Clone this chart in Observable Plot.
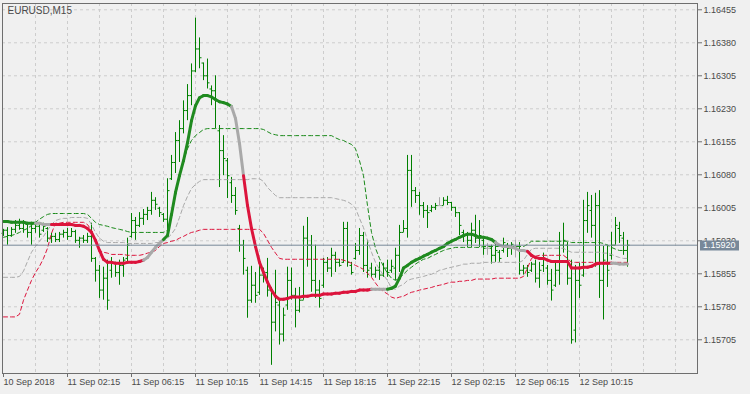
<!DOCTYPE html>
<html>
<head>
<meta charset="utf-8">
<script src="https://cdn.jsdelivr.net/npm/d3@7"></script>
<script src="https://cdn.jsdelivr.net/npm/@observablehq/plot@0.6"></script>
<style>
  html, body { margin: 0; padding: 0; background: #f0f0f0; }
  #chart { width: 750px; height: 394px; overflow: hidden; }
</style>
</head>
<body>
<div id="chart"></div>
<script>
// ---- Data (EURUSD, M15) ----
const symbolTitle = "EURUSD,M15";
const lastPrice = 1.15920;

const high = [
1.15956,1.15960,1.15960,1.15976,1.15979,1.15976,1.15970,1.15972,1.15970,1.15970,
1.15970,1.15960,1.15947,1.15947,1.15949,1.15954,1.15958,1.15958,1.15954,1.15938,
1.15942,1.15947,1.15970,1.15892,1.15874,1.15870,1.15886,1.15892,1.15881,1.15886,
1.15892,1.15936,1.15992,1.15983,1.15994,1.16001,1.16006,1.16040,1.16028,1.16006,
1.15992,1.16071,1.16124,1.16176,1.16203,1.16248,1.16285,1.16332,1.16436,1.16391,
1.16334,1.16343,1.16282,1.16305,1.16192,1.16169,1.16117,1.16074,1.16051,1.15965,
1.15931,1.15870,1.15872,1.15858,1.15881,1.15868,1.15890,1.15824,1.15863,1.15795,
1.15777,1.15870,1.15868,1.15822,1.15824,1.15963,1.15983,1.15942,1.15920,1.15840,
1.15890,1.15892,1.15913,1.15904,1.15888,1.15972,1.15972,1.15881,1.15924,1.15958,
1.15949,1.15931,1.15879,1.15870,1.15881,1.15879,1.15886,1.15886,1.15913,1.15965,
1.15976,1.16124,1.16124,1.16051,1.16040,1.16017,1.16010,1.16010,1.16015,1.16028,
1.16028,1.16031,1.16017,1.16006,1.15994,1.15954,1.15949,1.15970,1.15988,1.15976,
1.15938,1.15924,1.15920,1.15926,1.15908,1.15936,1.15924,1.15926,1.15931,1.15926,
1.15874,1.15874,1.15881,1.15886,1.15881,1.15902,1.15874,1.15865,1.15879,1.15949,
1.15970,1.15926,1.15886,1.15874,1.15879,1.16022,1.16040,1.16033,1.16038,1.16044,
1.15917,1.15920,1.15949,1.15983,1.15972,1.15949,1.15931
];
const low = [
1.15940,1.15920,1.15938,1.15947,1.15954,1.15947,1.15936,1.15920,1.15947,1.15936,
1.15949,1.15926,1.15924,1.15926,1.15926,1.15936,1.15931,1.15938,1.15924,1.15913,
1.15924,1.15924,1.15881,1.15836,1.15799,1.15795,1.15772,1.15845,1.15847,1.15829,
1.15847,1.15881,1.15936,1.15931,1.15960,1.15965,1.15976,1.15988,1.15999,1.15983,
1.15972,1.15942,1.16067,1.16083,1.16108,1.16173,1.16203,1.16237,1.16312,1.16321,
1.16294,1.16275,1.16237,1.16185,1.16051,1.16078,1.16026,1.16015,1.15988,1.15904,
1.15852,1.15754,1.15788,1.15788,1.15806,1.15834,1.15802,1.15647,1.15723,1.15693,
1.15700,1.15772,1.15795,1.15732,1.15766,1.15795,1.15870,1.15813,1.15799,1.15777,
1.15822,1.15858,1.15847,1.15858,1.15870,1.15879,1.15870,1.15852,1.15886,1.15897,
1.15858,1.15845,1.15847,1.15845,1.15840,1.15847,1.15847,1.15856,1.15840,1.15858,
1.15949,1.15936,1.16006,1.16015,1.15988,1.15981,1.15958,1.15994,1.15999,1.16010,
1.16010,1.16010,1.15997,1.15983,1.15942,1.15926,1.15915,1.15915,1.15924,1.15915,
1.15897,1.15897,1.15877,1.15881,1.15881,1.15902,1.15892,1.15897,1.15892,1.15852,
1.15852,1.15847,1.15858,1.15834,1.15822,1.15858,1.15829,1.15793,1.15824,1.15829,
1.15902,1.15829,1.15695,1.15698,1.15799,1.15847,1.15947,1.15936,1.15870,1.15799,
1.15750,1.15824,1.15886,1.15920,1.15924,1.15897,1.15870
];
const open = [
1.15947,1.15954,1.15942,1.15956,1.15965,1.15958,1.15967,1.15949,1.15958,1.15963,
1.15954,1.15958,1.15936,1.15940,1.15933,1.15945,1.15949,1.15940,1.15951,1.15931,
1.15936,1.15931,1.15940,1.15890,1.15863,1.15818,1.15845,1.15863,1.15881,1.15858,
1.15874,1.15890,1.15940,1.15976,1.15965,1.15981,1.15990,1.15999,1.16022,1.16004,
1.15990,1.15979,1.16071,1.16108,1.16158,1.16185,1.16226,1.16260,1.16316,1.16366,
1.16334,1.16305,1.16275,1.16271,1.16180,1.16135,1.16112,1.16062,1.16033,1.15958,
1.15920,1.15863,1.15795,1.15829,1.15813,1.15852,1.15858,1.15818,1.15745,1.15784,
1.15718,1.15784,1.15840,1.15806,1.15772,1.15795,1.15936,1.15920,1.15840,1.15818,
1.15829,1.15881,1.15868,1.15897,1.15881,1.15881,1.15958,1.15874,1.15890,1.15908,
1.15942,1.15874,1.15868,1.15854,1.15863,1.15852,1.15868,1.15863,1.15868,1.15897,
1.15949,1.15958,1.16090,1.16044,1.16033,1.16010,1.15999,1.15999,1.16006,1.16010,
1.16010,1.16022,1.16017,1.16006,1.15994,1.15949,1.15942,1.15931,1.15954,1.15936,
1.15931,1.15913,1.15913,1.15897,1.15904,1.15908,1.15920,1.15913,1.15917,1.15917,
1.15863,1.15868,1.15863,1.15877,1.15845,1.15874,1.15868,1.15840,1.15829,1.15863,
1.15920,1.15920,1.15845,1.15727,1.15840,1.15852,1.15976,1.15999,1.15965,1.16010,
1.15840,1.15881,1.15897,1.15920,1.15958,1.15936,1.15908
];
const close = [
1.15954,1.15942,1.15956,1.15965,1.15958,1.15972,1.15949,1.15958,1.15963,1.15945,
1.15963,1.15936,1.15940,1.15933,1.15945,1.15949,1.15940,1.15951,1.15931,1.15936,
1.15931,1.15940,1.15890,1.15863,1.15818,1.15845,1.15795,1.15881,1.15858,1.15874,
1.15886,1.15920,1.15976,1.15965,1.15981,1.15990,1.15999,1.16022,1.16013,1.15994,
1.15979,1.16044,1.16108,1.16158,1.16185,1.16226,1.16260,1.16316,1.16366,1.16346,
1.16305,1.16289,1.16271,1.16248,1.16135,1.16117,1.16078,1.16033,1.15999,1.15920,
1.15890,1.15795,1.15829,1.15806,1.15852,1.15858,1.15818,1.15745,1.15790,1.15718,
1.15761,1.15840,1.15806,1.15772,1.15795,1.15936,1.15920,1.15840,1.15818,1.15799,
1.15881,1.15868,1.15897,1.15881,1.15874,1.15958,1.15881,1.15858,1.15908,1.15942,
1.15874,1.15863,1.15854,1.15863,1.15852,1.15868,1.15858,1.15872,1.15897,1.15949,
1.15958,1.16090,1.16044,1.16033,1.16010,1.15999,1.15994,1.16006,1.16010,1.16010,
1.16022,1.16017,1.16006,1.15994,1.15965,1.15942,1.15931,1.15954,1.15936,1.15942,
1.15913,1.15913,1.15897,1.15908,1.15890,1.15926,1.15913,1.15922,1.15917,1.15863,
1.15868,1.15858,1.15877,1.15845,1.15863,1.15890,1.15840,1.15818,1.15863,1.15920,
1.15931,1.15845,1.15705,1.15840,1.15829,1.15976,1.16010,1.15965,1.16010,1.15840,
1.15886,1.15863,1.15920,1.15965,1.15942,1.15908,1.15920
];
// thick trend line
const trendLine = [
1.15974,1.15974,1.15972,1.15972,1.15972,1.15972,1.15970,1.15970,1.15970,1.15970,
1.15967,1.15967,1.15967,1.15967,1.15967,1.15967,1.15967,1.15967,1.15965,1.15965,
1.15963,1.15958,1.15949,1.15931,1.15908,1.15888,1.15881,1.15881,1.15879,1.15879,
1.15879,1.15881,1.15881,1.15881,1.15883,1.15886,1.15892,1.15904,1.15915,1.15924,
1.15933,1.15942,1.15990,1.16040,1.16078,1.16112,1.16153,1.16203,1.16237,1.16255,
1.16260,1.16260,1.16257,1.16251,1.16246,1.16244,1.16241,1.16235,1.16208,1.16151,
1.16078,1.16010,1.15958,1.15917,1.15881,1.15858,1.15836,1.15818,1.15804,1.15797,
1.15797,1.15799,1.15802,1.15802,1.15802,1.15804,1.15804,1.15806,1.15806,1.15806,
1.15809,1.15809,1.15809,1.15811,1.15811,1.15813,1.15813,1.15815,1.15815,1.15818,
1.15818,1.15818,1.15820,1.15820,1.15820,1.15820,1.15820,1.15822,1.15827,1.15845,
1.15868,1.15874,1.15881,1.15886,1.15890,1.15895,1.15899,1.15904,1.15908,1.15913,
1.15917,1.15924,1.15929,1.15933,1.15938,1.15942,1.15945,1.15945,1.15942,1.15938,
1.15938,1.15936,1.15933,1.15926,1.15920,1.15917,1.15917,1.15915,1.15913,1.15908,
1.15908,1.15906,1.15897,1.15892,1.15890,1.15890,1.15886,1.15883,1.15883,1.15883,
1.15883,1.15883,1.15868,1.15868,1.15868,1.15870,1.15870,1.15872,1.15877,1.15879,
1.15879,1.15879,1.15879,1.15879,1.15877,1.15877,1.15877
];
// colour state of the thick line, as runs of bars: [state, number of bars]
const trendRuns = [["up",9],["flat",4],["down",23],["flat",5],["up",17],["flat",3],
  ["down",32],["flat",4],["up",27],["flat",8],["down",21],["flat",4]];

const upperBand = [
1.15938,1.15940,1.15942,1.15945,1.15949,1.15954,1.15958,1.15965,1.15972,1.15979,
1.15985,1.15990,1.15992,1.15992,1.15992,1.15992,1.15992,1.15992,1.15992,1.15992,
1.15992,1.15990,1.15981,1.15972,1.15967,1.15965,1.15963,1.15960,1.15958,1.15956,
1.15954,1.15951,1.15949,1.15949,1.15949,1.15949,1.15949,1.15949,1.15949,1.15949,
1.15949,1.15954,1.15988,1.16033,1.16078,1.16112,1.16139,1.16158,1.16169,1.16176,
1.16183,1.16185,1.16185,1.16185,1.16185,1.16185,1.16185,1.16185,1.16185,1.16185,
1.16185,1.16185,1.16185,1.16185,1.16185,1.16183,1.16178,1.16173,1.16171,1.16169,
1.16169,1.16169,1.16169,1.16169,1.16169,1.16169,1.16169,1.16169,1.16169,1.16169,
1.16169,1.16169,1.16169,1.16164,1.16160,1.16158,1.16153,1.16149,1.16139,1.16112,
1.16078,1.16010,1.15949,1.15913,1.15890,1.15872,1.15856,1.15845,1.15840,1.15845,
1.15854,1.15863,1.15870,1.15877,1.15883,1.15888,1.15890,1.15895,1.15899,1.15904,
1.15908,1.15911,1.15913,1.15915,1.15915,1.15915,1.15915,1.15915,1.15915,1.15915,
1.15917,1.15917,1.15917,1.15917,1.15917,1.15917,1.15917,1.15917,1.15917,1.15917,
1.15917,1.15922,1.15929,1.15929,1.15929,1.15929,1.15929,1.15929,1.15929,1.15929,
1.15929,1.15929,1.15926,1.15926,1.15926,1.15926,1.15926,1.15926,1.15926,1.15926,
1.15924,1.15920,1.15915,1.15911,1.15908,1.15908,1.15908
];
const middleBand = [
1.15847,1.15847,1.15847,1.15847,1.15849,1.15861,1.15883,1.15904,1.15917,1.15929,
1.15940,1.15954,1.15967,1.15976,1.15979,1.15981,1.15981,1.15983,1.15983,1.15983,
1.15983,1.15981,1.15967,1.15949,1.15936,1.15929,1.15926,1.15926,1.15926,1.15926,
1.15926,1.15924,1.15924,1.15924,1.15924,1.15924,1.15924,1.15924,1.15926,1.15926,
1.15929,1.15936,1.15945,1.15958,1.15983,1.16010,1.16031,1.16049,1.16058,1.16065,
1.16069,1.16069,1.16069,1.16069,1.16069,1.16069,1.16069,1.16069,1.16069,1.16069,
1.16069,1.16069,1.16071,1.16071,1.16071,1.16065,1.16051,1.16042,1.16033,1.16028,
1.16028,1.16028,1.16028,1.16028,1.16028,1.16028,1.16028,1.16028,1.16028,1.16028,
1.16028,1.16028,1.16028,1.16026,1.16024,1.16022,1.16019,1.16013,1.16004,1.15981,
1.15960,1.15931,1.15904,1.15881,1.15865,1.15852,1.15840,1.15822,1.15820,1.15827,
1.15831,1.15840,1.15843,1.15845,1.15847,1.15849,1.15852,1.15854,1.15858,1.15863,
1.15865,1.15868,1.15870,1.15872,1.15874,1.15877,1.15877,1.15879,1.15879,1.15879,
1.15881,1.15881,1.15881,1.15881,1.15881,1.15881,1.15881,1.15881,1.15881,1.15881,
1.15886,1.15899,1.15911,1.15913,1.15913,1.15913,1.15913,1.15913,1.15913,1.15913,
1.15913,1.15908,1.15904,1.15904,1.15904,1.15904,1.15904,1.15904,1.15904,1.15904,
1.15902,1.15902,1.15899,1.15895,1.15892,1.15890,1.15890
];
const lowerBand = [
1.15757,1.15757,1.15757,1.15757,1.15763,1.15795,1.15818,1.15840,1.15858,1.15872,
1.15890,1.15913,1.15947,1.15970,1.15970,1.15972,1.15972,1.15972,1.15972,1.15972,
1.15972,1.15967,1.15954,1.15929,1.15908,1.15904,1.15902,1.15899,1.15899,1.15899,
1.15899,1.15897,1.15897,1.15897,1.15897,1.15899,1.15902,1.15904,1.15908,1.15917,
1.15924,1.15926,1.15929,1.15931,1.15936,1.15940,1.15945,1.15949,1.15951,1.15954,
1.15956,1.15956,1.15956,1.15956,1.15956,1.15956,1.15956,1.15956,1.15956,1.15956,
1.15956,1.15956,1.15956,1.15956,1.15956,1.15947,1.15931,1.15915,1.15902,1.15890,
1.15888,1.15888,1.15888,1.15888,1.15888,1.15888,1.15888,1.15888,1.15888,1.15888,
1.15888,1.15888,1.15888,1.15888,1.15888,1.15886,1.15883,1.15879,1.15874,1.15870,
1.15865,1.15856,1.15847,1.15834,1.15822,1.15815,1.15809,1.15802,1.15799,1.15802,
1.15804,1.15809,1.15813,1.15815,1.15818,1.15820,1.15822,1.15824,1.15827,1.15829,
1.15831,1.15834,1.15836,1.15836,1.15838,1.15838,1.15840,1.15840,1.15843,1.15843,
1.15843,1.15843,1.15843,1.15845,1.15845,1.15845,1.15845,1.15845,1.15845,1.15845,
1.15849,1.15868,1.15890,1.15895,1.15897,1.15897,1.15897,1.15897,1.15897,1.15897,
1.15897,1.15890,1.15881,1.15881,1.15881,1.15881,1.15881,1.15881,1.15881,1.15881,
1.15881,1.15881,1.15881,1.15881,1.15881,1.15881,1.15881
];

const yTicks = [1.15705,1.15780,1.15855,1.15930,1.16005,1.16080,1.16155,1.16230,1.16305,1.16380,1.16455];
const xTickBars = [0,16,32,48,64,80,96,112,128,144];
const xTickLabels = ["10 Sep 2018","11 Sep 02:15","11 Sep 06:15","11 Sep 10:15","11 Sep 14:15",
  "11 Sep 18:15","11 Sep 22:15","12 Sep 02:15","12 Sep 06:15","12 Sep 10:15"];
const gridBars = [8,16,24,32,40,48,56,64,72,80,88,96,104,112,120,128,136,144,152,160,168];

// ---- tables built from the arrays ----
const trend = trendRuns.flatMap(([s, n]) => Array(n).fill(s));
const bars = high.map((h, i) => ({
  i, high: h, low: low[i], open: open[i], close: close[i],
  ma: trendLine[i], up: upperBand[i], mid: middleBand[i], lo: lowerBand[i]
}));
const segs = bars.slice(1).map((d, k) => ({
  x1: k, y1: trendLine[k], x2: d.i, y2: trendLine[d.i], state: trend[d.i]
}));
const stateColor = {up: "#1f8a1f", down: "#dc143c", flat: "#a9a9a9"};
const barColor = d => d.open === d.close ? "#a9a9a9" : "#008000";
const labelOf = new Map(xTickBars.map((b, k) => [b, xTickLabels[k]]));

const textColor = "#4a4a4a";
const gridColor = "#cdcdcd";

const chart = Plot.plot({
  width: 750, height: 394,
  marginLeft: 2, marginRight: 53, marginTop: 3, marginBottom: 21,
  style: {background: "#f0f0f0", fontFamily: "'Liberation Sans', Arial, sans-serif", fontSize: "9px", color: textColor},
  x: {type: "linear", domain: [-0.25, 173.5], axis: null},
  y: {domain: [1.156284, 1.164693], axis: null},
  marks: [
    Plot.ruleY(yTicks, {stroke: gridColor, strokeDasharray: "3,3"}),
    Plot.ruleX(gridBars, {stroke: gridColor, strokeDasharray: "3,3"}),
    // OHLC bars
    Plot.ruleX(bars, {x: "i", y1: "low", y2: "high", stroke: barColor}),
    Plot.link(bars, {x1: d => d.i - 0.5, x2: "i", y1: "open", y2: "open", stroke: barColor}),
    Plot.link(bars, {x1: "i", x2: d => d.i + 0.5, y1: "close", y2: "close", stroke: barColor}),
    // bands
    Plot.line(bars, {x: "i", y: "up", stroke: "#1a8a1a", strokeDasharray: "4,3", strokeWidth: 1}),
    Plot.line(bars, {x: "i", y: "mid", stroke: "#a9a9a9", strokeDasharray: "4,3", strokeWidth: 1}),
    Plot.line(bars, {x: "i", y: "lo", stroke: "#dc143c", strokeDasharray: "4,3", strokeWidth: 1}),
    // thick coloured line
    Plot.link(segs, {x1: "x1", y1: "y1", x2: "x2", y2: "y2", stroke: d => stateColor[d.state], strokeWidth: 3, strokeLinecap: "round"}),
    // current price line
    Plot.ruleY([lastPrice], {stroke: "#778899", strokeWidth: 1}),
    Plot.frame({stroke: "#6e6e6e"}),
    Plot.axisY({anchor: "right", ticks: yTicks, tickFormat: d => d.toFixed(5), tickSize: 4, tickPadding: 2, stroke: "#6e6e6e", fill: textColor}),
    Plot.axisX({anchor: "bottom", ticks: xTickBars, tickFormat: d => labelOf.get(d), tickSize: 4, tickPadding: 1, textAnchor: "start", stroke: "#6e6e6e", fill: textColor}),
    Plot.text([symbolTitle], {frameAnchor: "top-left", dx: 5, dy: 3, textAnchor: "start", lineAnchor: "top", fill: textColor, fontSize: 10})
  ]
});
document.getElementById("chart").appendChild(chart);

// current price tag on the right axis (drawn over the hidden grid label, as in the original)
const svg = d3.select(chart.tagName.toLowerCase() === "svg" ? chart : chart.querySelector("svg"));
const py = Math.round(chart.scale("y").apply(lastPrice));
const tagX = 750 - 53 + 3;
const g = svg.append("g").attr("text-anchor", "start");
g.append("rect").attr("x", tagX).attr("y", py - 4.5).attr("width", 39).attr("height", 10).attr("fill", "#778899");
g.append("text").attr("x", tagX + 3).attr("y", py + 0.5).attr("dy", "0.32em").attr("text-anchor", "start")
  .attr("fill", "#ffffff").attr("font-size", 9).text(lastPrice.toFixed(5));
</script>
</body>
</html>
